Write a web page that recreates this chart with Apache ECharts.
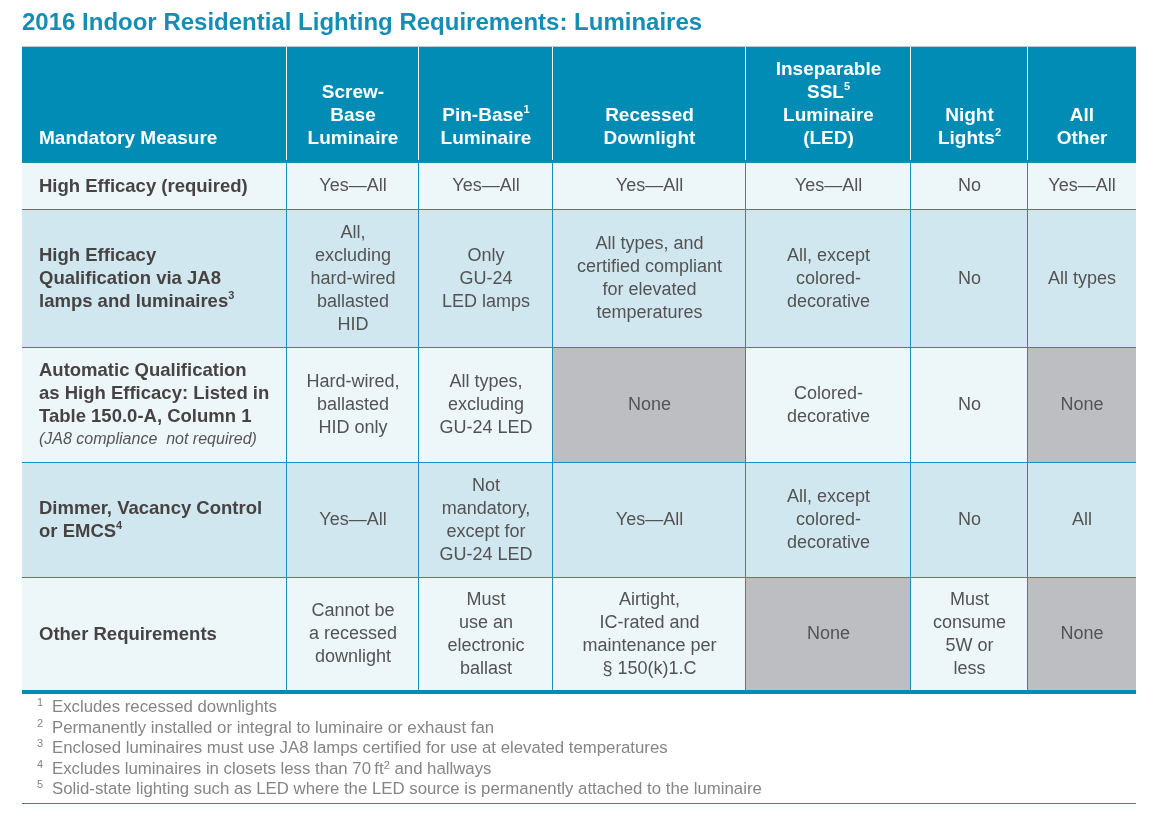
<!DOCTYPE html>
<html>
<head>
<meta charset="utf-8">
<script src="https://cdn.jsdelivr.net/npm/echarts@6/dist/echarts.min.js"></script>
<style>
html,body{margin:0;padding:0;background:#ffffff;}
#chart{width:1161px;height:823px;}
</style>
</head>
<body>
<div id="chart"></div>
<script>
// ---------------- DATA ----------------
const chartTitle = '2016 Indoor Residential Lighting Requirements: Luminaires';

const columnHeaders = [
  'Mandatory Measure',
  'Screw-\nBase\nLuminaire',
  'Pin-Base{sup|1}\nLuminaire',
  'Recessed\nDownlight',
  'Inseparable\nSSL{sup|5}\nLuminaire\n(LED)',
  'Night\nLights{sup|2}',
  'All\nOther'
];

const rowHeaders = [
  'High Efficacy (required)',
  'High Efficacy\nQualification via JA8\nlamps and luminaires{sup|3}',
  'Automatic Qualification\nas High Efficacy: Listed in\nTable 150.0-A, Column 1\n{it|(JA8 compliance  not required)}',
  'Dimmer, Vacancy Control\nor EMCS{sup|4}',
  'Other Requirements'
];

const rowHighEfficacy = ['Yes—All', 'Yes—All', 'Yes—All', 'Yes—All', 'No', 'Yes—All'];
const rowJA8 = ['All,\nexcluding\nhard-wired\nballasted\nHID', 'Only\nGU-24\nLED lamps', 'All types, and\ncertified compliant\nfor elevated\ntemperatures', 'All, except\ncolored-\ndecorative', 'No', 'All types'];
const rowAutomatic = ['Hard-wired,\nballasted\nHID only', 'All types,\nexcluding\nGU-24 LED', 'None', 'Colored-\ndecorative', 'No', 'None'];
const rowDimmer = ['Yes—All', 'Not\nmandatory,\nexcept for\nGU-24 LED', 'Yes—All', 'All, except\ncolored-\ndecorative', 'No', 'All'];
const rowOther = ['Cannot be\na recessed\ndownlight', 'Must\nuse an\nelectronic\nballast', 'Airtight,\nIC-rated and\nmaintenance per\n§ 150(k)1.C', 'None', 'Must\nconsume\n5W or\nless', 'None'];

const footnoteMarks = ['1', '2', '3', '4', '5'];
const footnotes = [
  'Excludes recessed downlights',
  'Permanently installed or integral to luminaire or exhaust fan',
  'Enclosed luminaires must use JA8 lamps certified for use at elevated temperatures',
  'Excludes luminaires in closets less than 70\u2009ft{fsup|2} and hallways',
  'Solid-state lighting such as LED where the LED source is permanently attached to the luminaire'
];

// ---------------- LAYOUT / STYLE ----------------
const bodyRows = [rowHighEfficacy, rowJA8, rowAutomatic, rowDimmer, rowOther];
const COL_W = [265, 132, 134, 193, 165, 117, 108];
const ROW_H = [116, 47, 138, 115, 115, 113];
const TOTAL_W = COL_W.reduce((a, b) => a + b, 0);
const TOTAL_H = ROW_H.reduce((a, b) => a + b, 0);

const FONT = '"Liberation Sans", Arial, Helvetica, sans-serif';
const TEAL = '#008cb4';
const LINE = '#1a8fb6';
const LIGHT = '#edf6f9';
const DARK = '#d1e7f0';
const GRAY = '#bdbec1';
const HEAD_TXT = '#ffffff';
const ROWHEAD_TXT = '#474343';
const BODY_TXT = '#535353';
const NOTE_TXT = '#858585';

const cellData = [];
for (let r = 0; r < ROW_H.length; r++) {
  for (let c = 0; c < COL_W.length; c++) cellData.push([c, r]);
}

function cellText(c, r) {
  if (r === 0) return columnHeaders[c];
  if (c === 0) return rowHeaders[r - 1];
  return bodyRows[r - 1][c - 1];
}

function renderCell(params, api) {
  const c = api.value(0), r = api.value(1);
  let x0 = 0, y0 = 0;
  for (let i = 0; i < c; i++) x0 += COL_W[i];
  for (let j = 0; j < r; j++) y0 += ROW_H[j];
  const p0 = api.coord([x0, y0]);
  const p1 = api.coord([x0 + COL_W[c], y0 + ROW_H[r]]);
  const X0 = Math.round(p0[0]), Y0 = Math.round(p0[1]);
  const X1 = Math.round(p1[0]), Y1 = Math.round(p1[1]);
  const w = X1 - X0, h = Y1 - Y0;
  const txt = cellText(c, r);
  const children = [];

  let fill;
  if (r === 0) fill = TEAL;
  else if (txt === 'None') fill = GRAY;
  else fill = (r % 2 === 1) ? LIGHT : DARK;
  children.push({ type: 'rect', shape: { x: X0, y: Y0, width: w, height: h }, style: { fill: fill } });

  if (r === 0) {
    children.push({ type: 'line', shape: { x1: X0, y1: Y0 + 0.5, x2: X1, y2: Y0 + 0.5 }, style: { stroke: '#b7cdd8', lineWidth: 1 } });
    if (c < COL_W.length - 1) {
      children.push({ type: 'line', shape: { x1: X1 - 0.5, y1: Y0 + 1, x2: X1 - 0.5, y2: Y1 - 2 }, style: { stroke: '#ffffff', lineWidth: 1 } });
    }
  } else {
    children.push({ type: 'line', shape: { x1: X0, y1: Y0 + 0.5, x2: X1, y2: Y0 + 0.5 }, style: { stroke: LINE, lineWidth: 1 } });
    if (c < COL_W.length - 1) {
      children.push({ type: 'line', shape: { x1: X1 - 0.5, y1: Y0, x2: X1 - 0.5, y2: Y1 }, style: { stroke: LINE, lineWidth: 1 } });
    }
    if (r === ROW_H.length - 1) {
      children.push({ type: 'rect', shape: { x: X0, y: Y1, width: w, height: 4 }, style: { fill: TEAL } });
    }
  }

  // text
  if (r === 0) {
    children.push({
      type: 'text',
      style: {
        text: txt,
        x: c === 0 ? X0 + 17 : (X0 + X1) / 2,
        y: Y1 - 12,
        align: c === 0 ? 'left' : 'center',
        verticalAlign: 'bottom',
        fill: HEAD_TXT,
        fontFamily: FONT, fontSize: 19, fontWeight: 'bold', lineHeight: 23,
        rich: {
          sup: { fill: HEAD_TXT, fontFamily: FONT, fontSize: 11, fontWeight: 'bold', verticalAlign: 'top', lineHeight: 16 }
        }
      }
    });
  } else if (c === 0) {
    children.push({
      type: 'text',
      style: {
        text: txt,
        x: X0 + 17,
        y: (Y0 + Y1) / 2 + 1,
        align: 'left',
        verticalAlign: 'middle',
        fill: ROWHEAD_TXT,
        fontFamily: FONT, fontSize: 18.5, fontWeight: 'bold', lineHeight: 23,
        rich: {
          sup: { fill: ROWHEAD_TXT, fontFamily: FONT, fontSize: 11, fontWeight: 'bold', verticalAlign: 'top', lineHeight: 16 },
          it: { fill: '#555555', fontFamily: FONT, fontSize: 16, fontStyle: 'italic', fontWeight: 'normal', lineHeight: 24 }
        }
      }
    });
  } else {
    children.push({
      type: 'text',
      style: {
        text: txt,
        x: (X0 + X1) / 2,
        y: (Y0 + Y1) / 2 + 1,
        align: 'center',
        verticalAlign: 'middle',
        fill: BODY_TXT,
        fontFamily: FONT, fontSize: 18, fontWeight: 'normal', lineHeight: 23
      }
    });
  }
  return { type: 'group', children: children };
}

// footnotes as graphic texts
const footnoteGraphics = [];
footnotes.forEach((t, i) => {
  const cy = 707.5 + i * 20.5;
  footnoteGraphics.push({
    type: 'text', left: 37, top: cy - 10,
    style: { text: footnoteMarks[i], fill: NOTE_TXT, fontFamily: FONT, fontSize: 11 }
  });
  footnoteGraphics.push({
    type: 'text', left: 52, top: cy - 9,
    style: {
      text: t, fill: NOTE_TXT, fontFamily: FONT, fontSize: 16.8, lineHeight: 18,
      rich: { fsup: { fill: NOTE_TXT, fontFamily: FONT, fontSize: 11, verticalAlign: 'top', lineHeight: 12 } }
    }
  });
});
footnoteGraphics.push({
  type: 'rect', left: 22, top: 803, shape: { width: TOTAL_W, height: 1 }, style: { fill: LINE }
});

const chart = echarts.init(document.getElementById('chart'), null, { renderer: 'canvas' });
chart.setOption({
  animation: false,
  backgroundColor: '#ffffff',
  title: {
    text: chartTitle,
    left: 22, top: 11, padding: 0,
    textStyle: { color: '#178db5', fontFamily: FONT, fontSize: 24, fontWeight: 'bold' }
  },
  grid: { left: 22, top: 46, width: TOTAL_W, height: TOTAL_H, containLabel: false },
  xAxis: { type: 'value', min: 0, max: TOTAL_W, show: false },
  yAxis: { type: 'value', min: 0, max: TOTAL_H, inverse: true, show: false },
  graphic: footnoteGraphics,
  series: [{
    type: 'custom',
    renderItem: renderCell,
    clip: false,
    data: cellData,
    encode: { x: 0, y: 1 },
    silent: true
  }]
});
</script>
</body>
</html>
